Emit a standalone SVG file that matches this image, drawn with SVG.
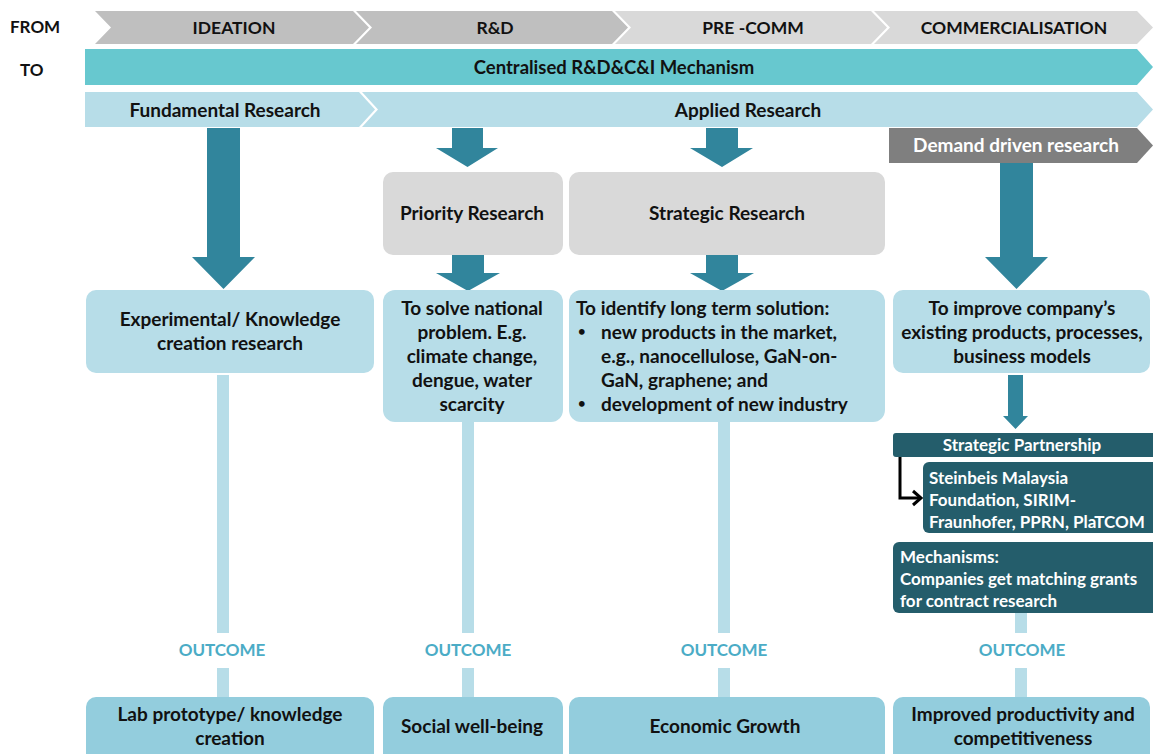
<svg xmlns="http://www.w3.org/2000/svg" width="1153" height="754" viewBox="0 0 1153 754">
  <style>
    text { font-family: Lato, "Open Sans", "Liberation Sans", sans-serif; font-weight: 700; }
    .hd { font-size: 17.5px; fill: #111111; text-anchor: middle; }
    .hm { font-size: 19px; fill: #111111; text-anchor: middle; }
    .lbl { font-size: 17px; fill: #111111; }
    .bx { font-size: 19px; fill: #111111; text-anchor: middle; }
    .bl { font-size: 19px; fill: #111111; }
    .dot { font-size: 13px; fill: #111111; }
    .wt { font-size: 17px; fill: #ffffff; }
    .oc { font-size: 17px; fill: #4bacc6; text-anchor: middle; }
    .stage-dk { fill: #bfbfbf; }
    .stage-lt { fill: #d9d9d9; }
    .mech { fill: #67c8cf; }
    .res { fill: #b7dde8; }
    .grey { fill: #d9d9d9; }
    .aim { fill: #b7dde8; }
    .out { fill: #93cddd; }
    .dark { fill: #245d6b; }
    .arrow { fill: #31859c; }
    .link { fill: #b7dde8; }
  </style>

  <!-- row labels -->
  <text class="lbl" x="10" y="33">FROM</text>
  <text class="lbl" x="20" y="76">TO</text>

  <!-- stage chevrons -->
  <g id="stages">
    <g id="stage-ideation">
      <polygon class="stage-dk" points="95,11 353,11 369,27.5 353,44 95,44 111,27.5"/>
      <text class="hd" x="234" y="33.5">IDEATION</text>
    </g>
    <g id="stage-rnd">
      <polygon class="stage-dk" points="356,11 612,11 628,27.5 612,44 356,44 372,27.5"/>
      <text class="hd" x="495" y="33.5">R&amp;D</text>
    </g>
    <g id="stage-precomm">
      <polygon class="stage-lt" points="615,11 871,11 887,27.5 871,44 615,44 631,27.5"/>
      <text class="hd" x="753" y="33.5">PRE -COMM</text>
    </g>
    <g id="stage-comm">
      <polygon class="stage-lt" points="874,11 1137,11 1153,27.5 1137,44 874,44 890,27.5"/>
      <text class="hd" x="1014" y="33.5">COMMERCIALISATION</text>
    </g>
  </g>

  <g id="mechanism">
    <polygon class="mech" points="85,49 1137,49 1153,67 1137,85 85,85"/>
    <text class="hm" x="614" y="74" style="font-size:18.5px">Centralised R&amp;D&amp;C&amp;I Mechanism</text>
  </g>

  <g id="fundamental">
    <polygon class="res" points="85,92 359,92 375,109.5 359,127 85,127"/>
    <text class="hm" x="225" y="116.5">Fundamental Research</text>
  </g>
  <g id="applied">
    <polygon class="res" points="362,92 1137,92 1153,109.5 1137,127 362,127 378,109.5"/>
    <text class="hm" x="748" y="116.5">Applied Research</text>
  </g>
  <g id="demand">
    <polygon fill="#7f7f7f" points="889,128 1137,128 1153,145.5 1137,163 889,163"/>
    <text class="wt" x="1016" y="152" text-anchor="middle" style="font-size:19px">Demand driven research</text>
  </g>

  <!-- connectors: block arrows and outcome links -->
  <g id="connectors">
    <polygon class="arrow" points="207,128 240,128 240,257 255,257 223.5,289 192,257 207,257"/>
    <polygon class="arrow" points="452,128 483,128 483,148 498,148 467.5,167 436,148 452,148"/>
    <polygon class="arrow" points="706,128 738,128 738,148 753,148 722,167 690,148 706,148"/>
    <polygon class="arrow" points="452,255 484,255 484,273 500,273 468,291 436,273 452,273"/>
    <polygon class="arrow" points="706,255 738,255 738,273 754,273 722,291 690,273 706,273"/>
    <polygon class="arrow" points="1000,163 1033,163 1033,257 1048,257 1016.5,289 985,257 1000,257"/>
    <polygon class="arrow" points="1008,375 1023,375 1023,416 1028,416 1015.5,429 1003,416 1008,416"/>

    <rect class="link" x="217" y="375" width="12" height="258"/>
    <rect class="link" x="217" y="668" width="12" height="29"/>
    <rect class="link" x="462" y="422" width="12" height="211"/>
    <rect class="link" x="462" y="668" width="12" height="29"/>
    <rect class="link" x="718" y="422" width="12" height="211"/>
    <rect class="link" x="718" y="668" width="12" height="29"/>
    <rect class="link" x="1015" y="613" width="12" height="20"/>
    <rect class="link" x="1015" y="668" width="12" height="29"/>

    <path d="M900,457 V498 H920" fill="none" stroke="#000" stroke-width="3"/>
    <polyline points="913,491 921,498 913,505" fill="none" stroke="#000" stroke-width="3"/>
  </g>

  <!-- research type boxes -->
  <g id="priority">
    <rect class="grey" x="383" y="172" width="180" height="83" rx="10"/>
    <text class="bx" x="472" y="220">Priority Research</text>
  </g>
  <g id="strategic">
    <rect class="grey" x="569" y="172" width="316" height="83" rx="10"/>
    <text class="bx" x="727" y="220">Strategic Research</text>
  </g>

  <!-- aims -->
  <g id="aim-experimental">
    <rect class="aim" x="86" y="290" width="288" height="83" rx="10"/>
    <text class="bx" x="230" y="326">Experimental/ Knowledge</text>
    <text class="bx" x="230" y="350">creation research</text>
  </g>
  <g id="aim-national">
    <rect class="aim" x="383" y="290" width="180" height="132" rx="12"/>
    <text class="bx" x="472" y="315">To solve national</text>
    <text class="bx" x="472" y="339">problem. E.g.</text>
    <text class="bx" x="472" y="363">climate change,</text>
    <text class="bx" x="472" y="387">dengue, water</text>
    <text class="bx" x="472" y="411">scarcity</text>
  </g>
  <g id="aim-longterm">
    <rect class="aim" x="569" y="290" width="316" height="132" rx="12"/>
    <text class="bl" x="576" y="315">To identify long term solution:</text>
    <text class="dot" x="578" y="336">•</text>
    <text class="bl" x="601" y="339">new products in the market,</text>
    <text class="bl" x="601" y="363">e.g., nanocellulose, GaN-on-</text>
    <text class="bl" x="601" y="387">GaN, graphene; and</text>
    <text class="dot" x="578" y="408">•</text>
    <text class="bl" x="601" y="411">development of new industry</text>
  </g>
  <g id="aim-company">
    <rect class="aim" x="893" y="290" width="257" height="83" rx="10"/>
    <text class="bx" x="1022" y="315">To improve company’s</text>
    <text class="bx" x="1022" y="339">existing products, processes,</text>
    <text class="bx" x="1022" y="363">business models</text>
  </g>

  <!-- commercialisation support -->
  <g id="partnership">
    <rect class="dark" x="893" y="433" width="270" height="24" rx="3"/>
    <text class="wt" x="1022" y="451" text-anchor="middle">Strategic Partnership</text>
  </g>
  <g id="partners">
    <rect class="dark" x="923" y="462" width="240" height="71" rx="6"/>
    <text class="wt" x="929" y="484">Steinbeis Malaysia</text>
    <text class="wt" x="929" y="506">Foundation, SIRIM-</text>
    <text class="wt" x="929" y="528">Fraunhofer, PPRN, PlaTCOM</text>
  </g>
  <g id="mechanisms">
    <rect class="dark" x="893" y="542" width="270" height="71" rx="6"/>
    <text class="wt" x="900" y="563">Mechanisms:</text>
    <text class="wt" x="900" y="585">Companies get matching grants</text>
    <text class="wt" x="900" y="607">for contract research</text>
  </g>

  <!-- outcome labels -->
  <text class="oc" x="222" y="656">OUTCOME</text>
  <text class="oc" x="468" y="656">OUTCOME</text>
  <text class="oc" x="724" y="656">OUTCOME</text>
  <text class="oc" x="1022" y="656">OUTCOME</text>

  <!-- outcomes -->
  <g id="outcome-lab">
    <rect class="out" x="86" y="697" width="288" height="70" rx="10"/>
    <text class="bx" x="230" y="721">Lab prototype/ knowledge</text>
    <text class="bx" x="230" y="745">creation</text>
  </g>
  <g id="outcome-social">
    <rect class="out" x="383" y="697" width="180" height="70" rx="10"/>
    <text class="bx" x="472" y="733">Social well-being</text>
  </g>
  <g id="outcome-economic">
    <rect class="out" x="569" y="697" width="316" height="70" rx="10"/>
    <text class="bx" x="725" y="733">Economic Growth</text>
  </g>
  <g id="outcome-productivity">
    <rect class="out" x="893" y="697" width="257" height="70" rx="10"/>
    <text class="bx" x="1023" y="721">Improved productivity and</text>
    <text class="bx" x="1023" y="745">competitiveness</text>
  </g>
</svg>
